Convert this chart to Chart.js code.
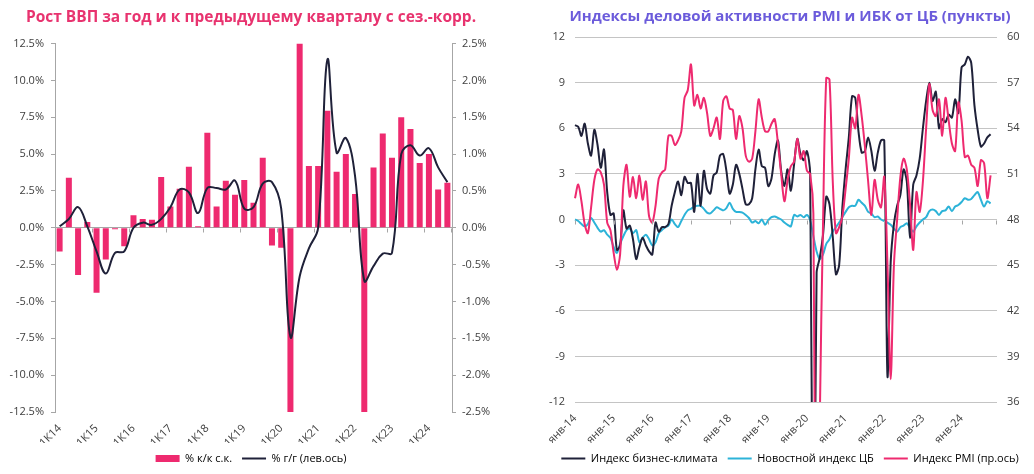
<!DOCTYPE html>
<html>
<head>
<meta charset="utf-8">
<script src="https://cdn.jsdelivr.net/npm/chart.js@4/dist/chart.umd.min.js"></script>
<style>
  body { margin: 0; background: #fff; }
  #wrap { position: relative; width: 1034px; height: 474px; }
  .box { position: absolute; top: 0; height: 474px; width: 517px; }
</style>
</head>
<body>
<div id="wrap">
  <div class="box" style="left:0"><canvas id="gdp"></canvas></div>
  <div class="box" style="left:517px"><canvas id="pmi"></canvas></div>
</div>
<script>
// --- left chart: GDP ---
const quarters = [
  '1К14','2К14','3К14','4К14','1К15','2К15','3К15','4К15','1К16','2К16','3К16','4К16',
  '1К17','2К17','3К17','4К17','1К18','2К18','3К18','4К18','1К19','2К19','3К19','4К19',
  '1К20','2К20','3К20','4К20','1К21','2К21','3К21','4К21','1К22','2К22','3К22','4К22',
  '1К23','2К23','3К23','4К23','1К24','2К24','3К24'
];
// % к/к с.к. (right axis)
const gdpQoQ = [
  -0.32, 0.68, -0.64, 0.08, -0.88, -0.43, -0.02, -0.25, 0.17, 0.12, 0.11, 0.69,
  0.29, 0.53, 0.83, 0.02, 1.29, 0.29, 0.64, 0.45, 0.65, 0.34, 0.95, -0.24,
  -0.27, -2.5, 2.5, 0.84, 0.84, 1.59, 0.76, 1.0, 0.46, -2.5, 0.82, 1.28,
  0.95, 1.5, 1.34, 0.88, 1.0, 0.52, 0.61
];
// % г/г (left axis)
const gdpYoY = [
  0.1, 0.6, 1.4, 0.1, -1.6, -3.1, -1.7, -1.6, 0.0, 0.35, 0.2, 0.6,
  1.4, 2.6, 2.4, 1.0, 2.7, 2.7, 2.6, 3.2, 1.3, 1.4, 3.0, 3.1,
  1.3, -7.4, -3.3, -1.4, 0.0, 11.4, 5.1, 6.1, 3.5, -3.6, -2.6, -1.75,
  -1.7, 5.0, 5.6, 4.9, 5.4, 4.1, 3.1
];

// --- right chart: business activity, monthly from янв-14 ---
const monthNames = ['янв','фев','мар','апр','май','июн','июл','авг','сен','окт','ноя','дек'];
const years = ['14','15','16','17','18','19','20','21','22','23','24'];
const months = [];
years.forEach(y => monthNames.forEach(m => months.push(m + '-' + y)));

const bizClimate = [
  6.2, 6.1, 5.5, 6.3, 5.0, 4.2, 5.9, 4.9, 3.4, 4.6, 1.8, 0.3,
  0.4, -2.0, -1.7, 0.6, -0.6, -0.4, -1.3, -2.6, -1.8, -1.2, -1.7, -2.1,
  -2.3, -0.2, -0.8, -0.5, -0.5, -0.3, 0.9, 1.8, 2.5, 1.6, 2.8, 2.4,
  2.4, 0.5, 3.0, 0.9, 3.2, 2.0, 1.7, 2.9, 3.1, 4.2, 4.3, 3.2,
  1.7, 2.3, 3.6, 3.0, 2.0, 1.0, 1.0, 1.4, 3.3, 4.6, 3.5, 3.4,
  2.2, 2.7, 4.3, 5.2, 3.2, 2.2, 3.3, 1.9, 3.6, 5.3, 4.3, 3.9,
  4.5, 3.0, -30, -3.5, -2.5, -1.0, 1.5, 1.0, -1.1, -3.6, -3.0, 0.8,
  3.3, 5.4, 8.1, 8.0, 5.8, 4.4, 4.5, 5.4, 4.5, 3.2, 4.4, 5.2,
  5.2, -10.3, -2.8, -0.3, 0.9, 1.6, 3.3, 2.5, -1.2, 2.3, 2.9, 4.0,
  6.0, 7.8, 9.0, 7.8, 8.4, 6.0, 6.6, 6.4, 6.9, 6.7, 7.9, 7.0,
  10.0, 10.2, 10.7, 10.3, 7.5, 5.9, 4.8, 5.0, 5.4, 5.6
];
const newsIndex = [
  0.0, -0.1, -0.3, -0.45, -0.3, 0.1, -0.2, -0.55, -0.8, -0.7, -1.0, -1.2,
  -1.8, -2.2, -1.6, -1.1, -0.7, -0.6, -0.9, -0.7, -1.5, -1.2, -1.0, -1.3,
  -1.7, -1.5, -0.9, -0.7, -0.5, -0.4, 0.0, -0.3, -0.5, -0.1, 0.3, 0.6,
  0.7, 0.85, 0.9, 0.9, 0.7, 0.45, 0.4, 0.6, 0.8, 0.7, 0.6, 0.75,
  1.1, 0.7, 0.5, 0.5, 0.45, 0.3, 0.1, -0.2, -0.1, -0.25, 0.0, -0.35,
  -0.05, 0.15, 0.2, 0.1, 0.0, -0.2, -0.35, -0.45, 0.3, 0.2, 0.3, 0.15,
  0.3, -0.05, -1.1, -2.1, -2.6, -2.3, -1.6, -1.3, -0.8, -0.5, -0.2, 0.15,
  0.5, 0.8, 0.9, 0.9, 1.3, 1.1, 0.9, 0.5, 0.4, 0.15, 0.2, 0.0,
  -0.1, -0.2, -0.35, -0.6, -0.8, -0.5, -0.4, -0.25, -0.55, -0.8, -0.45, -0.2,
  0.0, 0.15, 0.55, 0.65, 0.55, 0.3, 0.55, 0.6, 0.85, 0.55, 0.85, 0.95,
  1.15, 1.4, 1.3, 1.35, 1.6, 1.8, 1.3, 0.85, 1.2, 1.05
];
// PMI, right axis
const pmi = [
  49.4, 50.3, 49.2, 47.7, 47.1, 48.8, 50.6, 51.3, 51.1, 50.3, 47.8, 47.3,
  45.8, 44.7, 45.7, 50.2, 51.6, 49.5, 50.8, 49.4, 50.9, 49.3, 50.5, 48.2,
  47.8, 48.9, 50.7, 51.1, 51.3, 53.5, 53.5, 52.9, 53.2, 53.8, 56.0, 56.5,
  58.2, 55.5, 56.2, 55.3, 56.0, 55.0, 53.5, 54.0, 54.7, 53.3, 55.8, 56.1,
  55.3, 55.2, 53.3, 54.8, 54.0, 52.2, 51.8, 52.0, 53.8, 55.9, 54.7, 53.8,
  53.8, 54.3, 54.6, 53.0, 51.0, 49.2, 50.6, 51.5, 51.8, 53.3, 52.0, 52.5,
  51.2, 51.0, 48.4, 13.0, 35.0, 47.8, 57.3, 57.2, 50.6, 47.1, 47.5, 48.2,
  50.0, 52.0, 54.7, 54.0, 56.2, 54.8, 52.8, 50.5, 48.3, 50.6, 49.3, 48.8,
  50.8, 45.0, 37.5, 45.0, 48.0, 50.8, 52.0, 51.3, 49.0, 46.0, 49.8, 48.5,
  50.5, 54.0, 56.9, 55.2, 54.8, 55.9, 53.5, 56.0, 54.5, 53.0, 52.5, 55.7,
  54.5, 52.1, 52.2, 51.6, 51.4, 50.2, 51.9, 51.7, 49.4, 50.9
];

const PINK = '#ee2a6f';
const NAVY = '#1f2139';
const CYAN = '#2cb3d8';
const AXIS = '#a6a6a6';

Chart.defaults.font.family = "'Open Sans', 'DejaVu Sans', sans-serif";
Chart.defaults.font.size = 11;
Chart.defaults.color = '#404040';

// small tick marks along the zero line
const zeroTicks = {
  id: 'zeroTicks',
  afterDatasetsDraw(chart, args, opts) {
    const xs = chart.scales.x, ys = chart.scales.y;
    const y0 = Math.round(ys.getPixelForValue(0)) + 0.5;
    const n = chart.data.labels.length;
    const step = opts.offset ? xs.width / n : xs.width / (n - 1);
    const ctx = chart.ctx;
    ctx.save();
    ctx.strokeStyle = opts.color;
    ctx.lineWidth = 1;
    ctx.beginPath();
    for (let i = 0; i < n; i += opts.every) {
      const px = Math.round(xs.left + i * step) + 0.5;
      ctx.moveTo(px, y0);
      ctx.lineTo(px, y0 + 4);
    }
    const pe = Math.round(xs.right) - 0.5;
    ctx.moveTo(pe, y0);
    ctx.lineTo(pe, y0 + 4);
    ctx.stroke();
    ctx.restore();
  }
};

function legendItems(chart) {
  return chart.data.datasets.map((ds, i) => ({
    text: ds.label,
    fillStyle: ds.type === 'bar' ? ds.backgroundColor : ds.borderColor,
    strokeStyle: ds.type === 'bar' ? ds.backgroundColor : ds.borderColor,
    lineWidth: ds.type === 'bar' ? 0 : 2,
    pointStyle: ds.type === 'bar' ? 'rect' : 'line',
    hidden: false,
    datasetIndex: i
  }));
}

new Chart(document.getElementById('gdp'), {
  type: 'bar',
  data: {
    labels: quarters,
    datasets: [
      {
        type: 'bar', label: '% к/к с.к.', data: gdpQoQ, yAxisID: 'y1',
        backgroundColor: PINK, categoryPercentage: 1, barPercentage: 0.65, order: 2
      },
      {
        type: 'line', label: '% г/г (лев.ось)', data: gdpYoY, yAxisID: 'y',
        borderColor: NAVY, backgroundColor: NAVY, borderWidth: 2, pointRadius: 0,
        tension: 0.4, order: 1
      }
    ]
  },
  options: {
    responsive: true,
    maintainAspectRatio: false,
    animation: false,
    layout: { padding: { left: 0, right: 15, bottom: 0 } },
    plugins: {
      title: {
        display: true,
        text: 'Рост ВВП за год и к предыдущему кварталу с сез.-корр.',
        color: '#e8336f',
        font: { size: 15.5, weight: 'bold' },
        padding: { top: 8, bottom: 17 }
      },
      legend: {
        position: 'bottom',
        labels: {
          usePointStyle: true, pointStyleWidth: 24, boxWidth: 24, boxHeight: 7,
          padding: 10, font: { size: 11 }, color: '#404040',
          generateLabels: legendItems
        }
      },
      tooltip: { enabled: false },
      zeroTicks: { every: 4, offset: true, color: AXIS }
    },
    scales: {
      x: {
        grid: { display: false },
        border: { display: false },
        ticks: {
          autoSkip: false, minRotation: 45, maxRotation: 45, padding: 2,
          callback(v, i) { return i % 4 === 0 ? this.getLabelForValue(v) : ''; }
        },
        afterFit(s) { s.height = 31; }
      },
      y: {
        position: 'left', min: -12.5, max: 12.5,
        border: { color: AXIS },
        grid: {
          color: c => c.tick.value === 0 ? AXIS : 'rgba(0,0,0,0)',
          tickColor: AXIS, tickLength: 4
        },
        ticks: { stepSize: 2.5, padding: 7, callback: v => v.toFixed(1) + '%' },
        afterFit(s) { s.width = 55; }
      },
      y1: {
        position: 'right', min: -2.5, max: 2.5,
        border: { color: AXIS },
        grid: { drawOnChartArea: false, color: AXIS, tickLength: 4 },
        ticks: { stepSize: 0.5, padding: 6, callback: v => v.toFixed(1) + '%' },
        afterFit(s) { s.width = 50; }
      }
    }
  },
  plugins: [zeroTicks]
});

new Chart(document.getElementById('pmi'), {
  type: 'line',
  data: {
    labels: months,
    datasets: [
      {
        label: 'Индекс бизнес-климата', data: bizClimate, yAxisID: 'y',
        borderColor: NAVY, borderWidth: 2, pointRadius: 0, tension: 0.3, order: 2
      },
      {
        label: 'Новостной индекс ЦБ', data: newsIndex, yAxisID: 'y',
        borderColor: CYAN, borderWidth: 2, pointRadius: 0, tension: 0.3, order: 3
      },
      {
        label: 'Индекс PMI (пр.ось)', data: pmi, yAxisID: 'y1',
        borderColor: PINK, borderWidth: 2, pointRadius: 0, tension: 0.3, order: 1
      }
    ]
  },
  options: {
    responsive: true,
    maintainAspectRatio: false,
    animation: false,
    layout: { padding: { left: 29, right: 0, bottom: 0 } },
    plugins: {
      title: {
        display: true,
        text: 'Индексы деловой активности PMI и ИБК от ЦБ (пункты)',
        color: '#6b5bdb',
        font: { size: 15, weight: 'bold' },
        padding: { top: 8, bottom: 11 }
      },
      legend: {
        position: 'bottom',
        labels: {
          usePointStyle: true, pointStyleWidth: 24, boxWidth: 24, boxHeight: 7,
          padding: 10, font: { size: 11 }, color: '#404040',
          generateLabels: legendItems
        }
      },
      tooltip: { enabled: false },
      zeroTicks: { every: 12, offset: false, color: AXIS }
    },
    scales: {
      x: {
        grid: { display: false },
        border: { display: false },
        ticks: {
          autoSkip: false, minRotation: 45, maxRotation: 45, padding: 2,
          callback(v, i) { return i % 12 === 0 ? this.getLabelForValue(v) : ''; }
        },
        afterFit(s) { s.height = 41; }
      },
      y: {
        position: 'left', min: -12, max: 12,
        border: { display: false },
        grid: { color: '#c4c4c4', drawTicks: false },
        ticks: { stepSize: 3, padding: 10 },
        afterFit(s) { s.width = 29; }
      },
      y1: {
        position: 'right', min: 36, max: 60,
        border: { display: false },
        grid: { display: false, drawTicks: false },
        ticks: { stepSize: 3, padding: 10 },
        afterFit(s) { s.width = 37; }
      }
    }
  },
  plugins: [zeroTicks]
});
</script>
</body>
</html>
